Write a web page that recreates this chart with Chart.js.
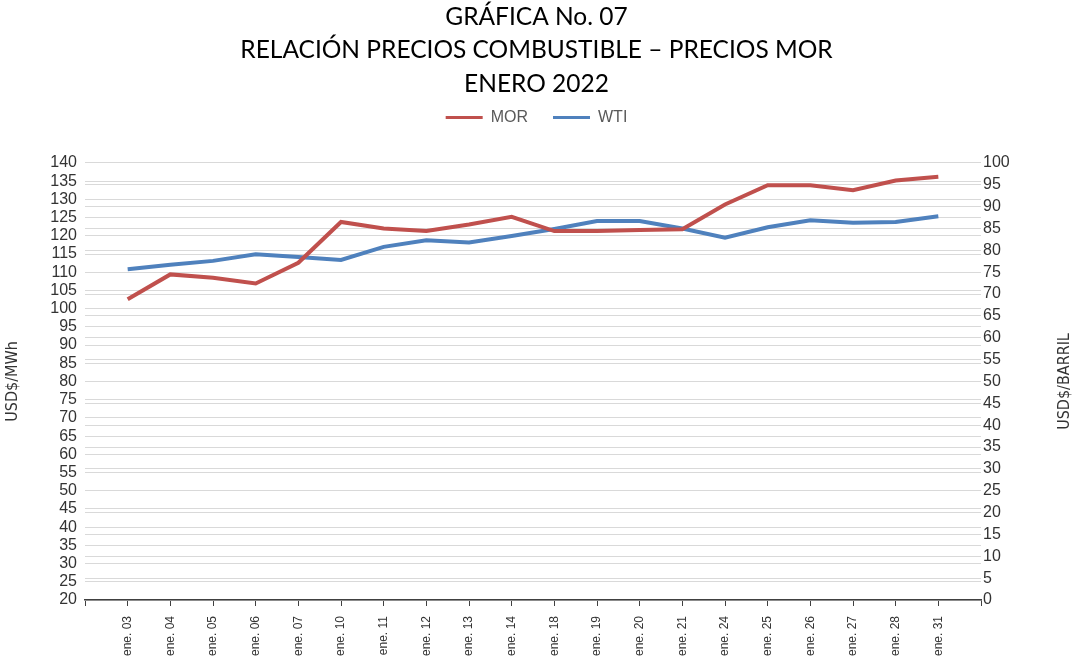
<!DOCTYPE html>
<html>
<head>
<meta charset="utf-8">
<script src="https://cdn.jsdelivr.net/npm/chart.js@4.4.1/dist/chart.umd.min.js"></script>
<style>
  html, body { margin: 0; padding: 0; background: #fff; }
  canvas { display: block; }
</style>
</head>
<body>
<canvas id="chart" width="1073" height="656"></canvas>
<script>
(function () {
    "use strict";

    // Data
    const days = ["ene. 03", "ene. 04", "ene. 05", "ene. 06", "ene. 07", "ene. 10", "ene. 11", "ene. 12", "ene. 13", "ene. 14",
        "ene. 18", "ene. 19", "ene. 20", "ene. 21", "ene. 24", "ene. 25", "ene. 26", "ene. 27", "ene. 28", "ene. 31"];
    const mor = [102.6, 109.4, 108.5, 106.9, 112.6, 123.8, 122.0, 121.3, 123.1, 125.2,
        121.3, 121.3, 121.6, 121.8, 128.6, 133.9, 133.9, 132.5, 135.2, 136.2];
    const wti = [75.7, 76.7, 77.6, 79.1, 78.5, 77.8, 80.8, 82.3, 81.8, 83.3,
        84.9, 86.7, 86.7, 85.0, 82.9, 85.3, 86.9, 86.3, 86.5, 87.8];

    const titleLines = ["GRÁFICA No. 07", "RELACIÓN PRECIOS COMBUSTIBLE – PRECIOS MOR", "ENERO 2022"];
    const leftTitle = "USD$/MWh";
    const rightTitle = "USD$/BARRIL";

    // blank slot at each end so the axis runs one step past the first and last day
    const labels = [""].concat(days, [""]);
    const pad = (arr) => [null].concat(arr, [null]);

    const red = "#C0504D";
    const blue = "#4F81BD";
    const gridColor = "#D9D9D9";
    const tickColor = "#333333";
    const narrowFont = "'DejaVu Sans Condensed', 'Liberation Sans Narrow', sans-serif";

    // right axis title reads bottom to top, like the left one
    const rightTitlePlugin = {
        id: "rightTitle",
        afterDraw(chart) {
            const s = chart.scales.y1;
            const ctx = chart.ctx;
            ctx.save();
            ctx.translate(1065, (s.top + s.bottom) / 2);
            ctx.rotate(-Math.PI / 2);
            ctx.font = "16px " + narrowFont;
            ctx.fillStyle = tickColor;
            ctx.textAlign = "center";
            ctx.textBaseline = "middle";
            ctx.fillText(rightTitle, 0, 0);
            ctx.restore();
        },
    };

    const ctx = document.getElementById("chart").getContext("2d");

    new Chart(ctx, {
        type: "line",
        data: {
            labels: labels,
            datasets: [
                {
                    label: "MOR",
                    data: pad(mor),
                    yAxisID: "y",
                    borderColor: red,
                    backgroundColor: red,
                    borderWidth: 4,
                    pointRadius: 0,
                    tension: 0,
                },
                {
                    label: "WTI",
                    data: pad(wti),
                    yAxisID: "y1",
                    borderColor: blue,
                    backgroundColor: blue,
                    borderWidth: 4,
                    pointRadius: 0,
                    tension: 0,
                },
            ],
        },
        options: {
            responsive: false,
            animation: false,
            layout: {
                padding: 0,
            },
            plugins: {
                title: {
                    display: true,
                    text: titleLines,
                    color: "#000000",
                    font: { family: "Lato", size: 24.5, weight: "normal", lineHeight: 1.367 },
                    padding: { top: 0, bottom: -16 },
                },
                // empty spacer under the legend
                subtitle: {
                    display: true,
                    text: "",
                    weight: 500,
                    font: { size: 10, lineHeight: 1 },
                    padding: { top: 0, bottom: 17.5 },
                },
                legend: {
                    display: true,
                    labels: {
                        boxWidth: 37,
                        boxHeight: 3,
                        color: "#595959",
                        font: { family: "Liberation Sans", size: 16 },
                        padding: 25,
                        generateLabels(chart) {
                            return chart.data.datasets.map((ds, i) => ({
                                text: ds.label,
                                fillStyle: ds.borderColor,
                                strokeStyle: ds.borderColor,
                                lineWidth: 0,
                                fontColor: "#595959",
                                datasetIndex: i,
                                hidden: false,
                            }));
                        },
                    },
                },
                tooltip: { enabled: false },
            },
            scales: {
                x: {
                    offset: false,
                    afterFit(scale) {
                        scale.height = 56;
                    },
                    ticks: {
                        autoSkip: false,
                        minRotation: 90,
                        maxRotation: 90,
                        color: tickColor,
                        padding: 10,
                        font: { family: "Liberation Sans", size: 12 },
                    },
                    grid: {
                        display: true,
                        drawOnChartArea: false,
                        drawTicks: true,
                        tickLength: 6,
                        offset: false,
                        color: "#404040",
                    },
                    border: { display: true, color: "#404040", width: 1.5 },
                },
                y: {
                    position: "left",
                    min: 20,
                    max: 140,
                    afterFit(scale) {
                        scale.width = 85;
                    },
                    ticks: {
                        stepSize: 5,
                        autoSkip: false,
                        color: tickColor,
                        padding: 8,
                        font: { family: "Liberation Sans", size: 16 },
                    },
                    grid: { color: gridColor, drawTicks: false },
                    border: { display: false },
                    title: {
                        display: true,
                        text: leftTitle,
                        color: tickColor,
                        font: { family: narrowFont, size: 16, lineHeight: 1.2 },
                        padding: { top: 3, bottom: 0 },
                    },
                },
                y1: {
                    position: "right",
                    min: 0,
                    max: 100,
                    afterFit(scale) {
                        scale.width = 92;
                    },
                    ticks: {
                        stepSize: 5,
                        autoSkip: false,
                        color: tickColor,
                        padding: 2,
                        font: { family: "Liberation Sans", size: 16 },
                    },
                    grid: { color: gridColor, drawTicks: false },
                    border: { display: false },
                },
            },
        },
        plugins: [rightTitlePlugin],
    });
})();
</script>
</body>
</html>
